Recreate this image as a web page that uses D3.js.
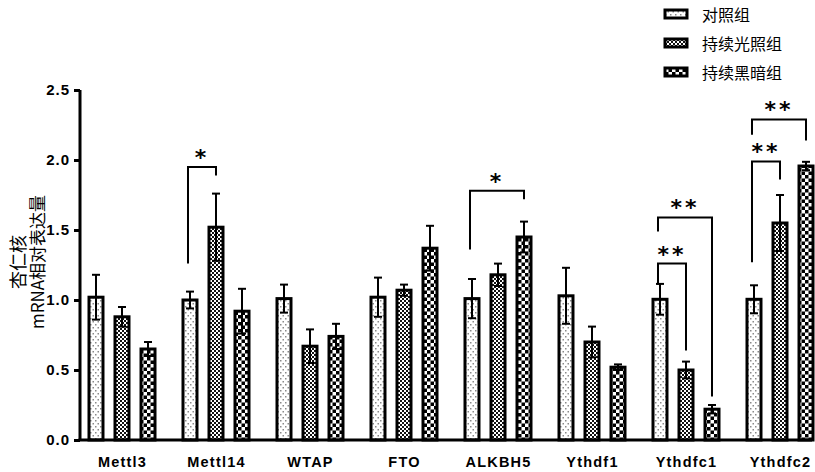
<!DOCTYPE html>
<html>
<head>
<meta charset="utf-8">
<script src="https://cdn.jsdelivr.net/npm/d3@7"></script>
<style>
  body { margin: 0; background: #fff; }
  svg { display: block; }
</style>
</head>
<body>
<script>
const WIDTH = 815;
const HEIGHT = 472;

const genes = ["Mettl3", "Mettl14", "WTAP", "FTO", "ALKBH5", "Ythdf1", "Ythdfc1", "Ythdfc2"];
const groups = ["对照组", "持续光照组", "持续黑暗组"];
const controlMean = [1.02, 1.00, 1.01, 1.02, 1.01, 1.03, 1.005, 1.005];
const controlErr  = [0.16, 0.06, 0.10, 0.14, 0.14, 0.20, 0.11, 0.10];
const lightMean   = [0.88, 1.52, 0.67, 1.07, 1.18, 0.70, 0.50, 1.55];
const lightErr    = [0.07, 0.24, 0.12, 0.04, 0.08, 0.11, 0.06, 0.20];
const darkMean    = [0.65, 0.92, 0.74, 1.37, 1.45, 0.52, 0.22, 1.957];
const darkErr     = [0.05, 0.16, 0.09, 0.16, 0.11, 0.02, 0.03, 0.03];
const yTicks = [0, 0.5, 1.0, 1.5, 2.0, 2.5];

// significance brackets: gene, from group, to group, top, left leg end, right leg end
const sigGene  = ["Mettl14", "ALKBH5", "Ythdfc1", "Ythdfc1", "Ythdfc2", "Ythdfc2"];
const sigFrom  = [0, 0, 0, 0, 0, 0];
const sigTo    = [1, 2, 2, 1, 2, 1];
const sigTop   = [1.95, 1.78, 1.59, 1.26, 2.29, 1.99];
const sigLeft  = [1.26, 1.36, 1.49, 1.11, 2.18, 1.27];
const sigRight = [1.89, 1.72, 0.31, 0.64, 2.14, 1.86];
const sigLabel = ["*", "*", "**", "**", "**", "**"];

function setup(){
    let svg = d3.select("body")
        .append("svg")
        .attr("width", WIDTH)
        .attr("height", HEIGHT);

    let defs = svg.append("defs");
    // control: white with small grey dots
    let p0 = defs.append("pattern").attr("id", "pat0")
        .attr("patternUnits", "userSpaceOnUse").attr("width", 5).attr("height", 6);
    p0.append("rect").attr("width", 5).attr("height", 6).attr("fill", "#fff");
    p0.append("rect").attr("x", 0).attr("y", 0).attr("width", 1.5).attr("height", 1.5).attr("fill", "#8a8a8a");
    p0.append("rect").attr("x", 2.5).attr("y", 3).attr("width", 1.5).attr("height", 1.5).attr("fill", "#8a8a8a");
    // constant light: fine checker
    let p1 = defs.append("pattern").attr("id", "pat1")
        .attr("patternUnits", "userSpaceOnUse").attr("width", 4).attr("height", 4);
    p1.append("rect").attr("width", 4).attr("height", 4).attr("fill", "#fff");
    p1.append("rect").attr("width", 2).attr("height", 2).attr("fill", "#111");
    p1.append("rect").attr("x", 2).attr("y", 2).attr("width", 2).attr("height", 2).attr("fill", "#111");
    // constant dark: coarse checker
    let p2 = defs.append("pattern").attr("id", "pat2")
        .attr("patternUnits", "userSpaceOnUse").attr("width", 7).attr("height", 7);
    p2.append("rect").attr("width", 7).attr("height", 7).attr("fill", "#fff");
    p2.append("rect").attr("width", 3.5).attr("height", 3.5).attr("fill", "#000");
    p2.append("rect").attr("x", 3.5).attr("y", 3.5).attr("width", 3.5).attr("height", 3.5).attr("fill", "#000");

    main(svg);
}

function main(svg){
    let means = [controlMean, lightMean, darkMean];
    let errs = [controlErr, lightErr, darkErr];

    let x = d3.scalePoint().domain(genes).range([122, 780]);
    let xs = d3.scaleBand().domain(d3.range(groups.length)).range([-34, 34]).paddingInner(0.385);
    let y = d3.scaleLinear().domain([0, 2.5]).range([440, 90]);
    let bw = xs.bandwidth();
    let cx = (g, s) => x(g) + xs(s) + bw / 2;

    let rows = [];
    genes.forEach((g, i) => {
        groups.forEach((s, j) => {
            rows.push({gene: g, s: j, v: means[j][i], e: errs[j][i]});
        });
    });

    // bars
    svg.selectAll(".bar")
        .data(rows)
        .enter()
        .append("rect")
        .attr("class", "bar")
        .attr("x", d => x(d.gene) + xs(d.s) + 1)
        .attr("width", bw - 2)
        .attr("y", d => y(d.v))
        .attr("height", d => y(0) - y(d.v))
        .attr("fill", d => `url(#pat${d.s})`)
        .attr("stroke", "#000")
        .attr("stroke-width", 3);

    // error bars
    let eb = svg.selectAll(".err")
        .data(rows)
        .enter()
        .append("g")
        .attr("class", "err")
        .attr("stroke", "#000")
        .attr("stroke-width", 2);
    eb.append("line")
        .attr("x1", d => cx(d.gene, d.s)).attr("x2", d => cx(d.gene, d.s))
        .attr("y1", d => y(d.v - d.e)).attr("y2", d => y(d.v + d.e));
    eb.append("line")
        .attr("x1", d => cx(d.gene, d.s) - 4).attr("x2", d => cx(d.gene, d.s) + 4)
        .attr("y1", d => y(d.v + d.e)).attr("y2", d => y(d.v + d.e));
    eb.append("line")
        .attr("x1", d => cx(d.gene, d.s) - 4).attr("x2", d => cx(d.gene, d.s) + 4)
        .attr("y1", d => y(d.v - d.e)).attr("y2", d => y(d.v - d.e));

    // y axis
    let yAxis = svg.append("g")
        .attr("transform", "translate(80,0)")
        .call(d3.axisLeft(y).tickValues(yTicks).tickFormat(d3.format(".1f")).tickSize(6).tickPadding(4));
    yAxis.select(".domain").attr("stroke-width", 3).attr("d", "M0,90V440");
    yAxis.selectAll(".tick line").attr("stroke-width", 3);
    yAxis.selectAll(".tick text")
        .style("font-family", "'Liberation Sans', Arial, sans-serif")
        .style("font-weight", "bold")
        .style("font-size", "15px")
        .style("letter-spacing", "1px")
        .attr("fill", "#000");

    // x axis
    let xAxis = svg.append("g")
        .attr("transform", "translate(0,440)")
        .call(d3.axisBottom(x).tickSize(0).tickPadding(17));
    xAxis.select(".domain").attr("stroke-width", 3).attr("d", "M78.5,0H812");
    xAxis.selectAll(".tick text")
        .style("font-family", "'Liberation Sans', Arial, sans-serif")
        .style("font-weight", "bold")
        .style("font-size", "14.5px")
        .style("letter-spacing", "1.2px")
        .attr("fill", "#000");

    // significance brackets
    sigGene.forEach((g, i) => {
        let x1 = cx(g, sigFrom[i]) - 2;
        let x2 = cx(g, sigTo[i]);
        svg.append("path")
            .attr("d", `M${x1},${y(sigLeft[i])}V${y(sigTop[i])}H${x2}V${y(sigRight[i])}`)
            .attr("fill", "none")
            .attr("stroke", "#000")
            .attr("stroke-width", 2);
        svg.append("text")
            .attr("x", (x1 + x2) / 2)
            .attr("y", y(sigTop[i]) - 2)
            .attr("text-anchor", "middle")
            .attr("fill", "#000")
            .style("font-family", "'DejaVu Sans', sans-serif")
            .style("font-weight", "bold")
            .style("font-size", "22px")
            .style("letter-spacing", "3px")
            .text(sigLabel[i]);
    });

    // y label
    let yl = svg.append("text")
        .attr("transform", "translate(0,262) rotate(-90)")
        .attr("text-anchor", "middle")
        .attr("fill", "#000")
        .style("font-family", "'Noto Sans CJK SC', serif")
        .style("font-size", "17px");
    yl.append("tspan").attr("x", 0).attr("y", 25).style("font-size", "18px").text("杏仁核");
    yl.append("tspan").attr("x", 0).attr("y", 44)
        .text("mRNA相对表达量");

    // legend
    let lg = svg.selectAll(".legend")
        .data(groups)
        .enter()
        .append("g")
        .attr("class", "legend")
        .attr("transform", (d, i) => `translate(665,${14 + i * 29})`);
    lg.append("rect")
        .attr("x", 0).attr("y", -4)
        .attr("width", 22).attr("height", 8)
        .attr("fill", (d, i) => `url(#pat${i})`)
        .attr("stroke", "#000")
        .attr("stroke-width", 3);
    lg.append("text")
        .attr("x", 37).attr("y", 0)
        .attr("dominant-baseline", "central")
        .attr("fill", "#000")
        .style("font-family", "'Noto Sans CJK SC', sans-serif")
        .style("font-size", "16px")
        .text(d => d);
}

window.addEventListener("load", setup);
</script>
</body>
</html>
